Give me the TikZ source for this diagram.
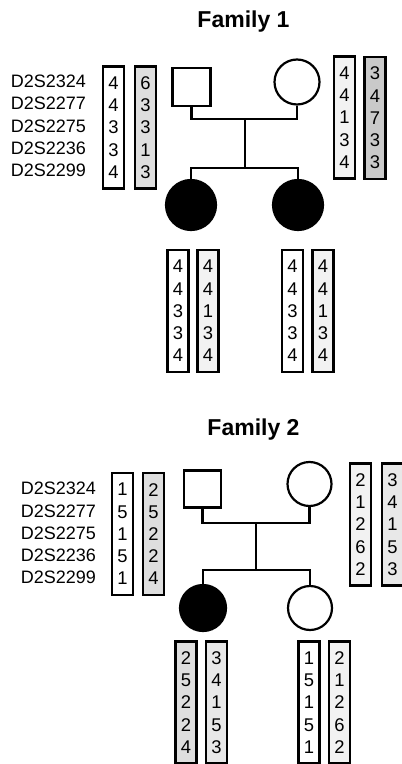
\documentclass[tikz,border=0pt]{standalone}
\usepackage{fontspec}
\setmainfont{Liberation Sans}
\usepackage{tikz}
\usetikzlibrary{shapes.geometric}

\begin{document}
\begin{tikzpicture}[x=0.5pt,y=-0.5pt,line width=1.1pt,
	hap box/.style={draw, line width=1.4pt, inner sep=0pt, minimum width=10.5pt, minimum height=61pt, align=center, font=\fontsize{9.2}{11.1}\selectfont},
	light/.style={fill=black!5}, soft/.style={fill=black!9}, mid/.style={fill=black!13}, dark/.style={fill=black!21},
	marker/.style={align=right, inner sep=0pt, font=\fontsize{9}{11.1}\selectfont},
	male/.style={rectangle, draw, minimum size=19pt, inner sep=0pt},
	female/.style={circle, draw, minimum size=22.5pt, inner sep=0pt},
	affected/.style={circle, draw, fill=black, minimum size=25pt, inner sep=0pt},
	title/.style={anchor=base, font=\fontsize{11.5}{13}\selectfont\bfseries}]
	\useasboundingbox (0,0) rectangle (401,764);
	
	% Family 1
	\node[title] (t1) at (243.5,28) {Family 1};
	\node[marker, anchor=east] (mk1) at (87,126) {D2S2324\\D2S2277\\D2S2275\\D2S2236\\D2S2299};
	\node[hap box] (d1a) at (113.5,127.5) {4\\4\\3\\3\\4};
	\node[hap box, mid] (d1b) at (145.5,127.5) {6\\3\\3\\1\\3};
	\node[male] (d1) at (191.5,87) {};
	\node[female] (m1) at (297,82) {};
	\node[hap box, light] (m1a) at (344.5,117.5) {4\\4\\1\\3\\4};
	\node[hap box, dark] (m1b) at (375,118) {3\\4\\7\\3\\3};
	\node[affected] (k1) at (191,205) {};
	\node[affected] (k2) at (298,205) {};
	\node[hap box] (k1a) at (178,311) {4\\4\\3\\3\\4};
	\node[hap box, light] (k1b) at (208,311) {4\\4\\1\\3\\4};
	\node[hap box] (k2a) at (292.5,311) {4\\4\\3\\3\\4};
	\node[hap box, light] (k2b) at (323,311) {4\\4\\1\\3\\4};
	
	\coordinate (mar1) at (245,119);
	\coordinate (sib1) at (245,168);
	\draw (d1.south) |- (mar1) -| (m1.south);
	\draw (mar1) -- (sib1);
	\draw (k1.north) |- (sib1) -| (k2.north);
	
	% Family 2
	\node[title] (t2) at (253.5,435) {Family 2};
	\node[marker, anchor=east] (mk2) at (97,533) {D2S2324\\D2S2277\\D2S2275\\D2S2236\\D2S2299};
	\node[hap box] (d2a) at (122.5,534) {1\\5\\1\\5\\1};
	\node[hap box, mid] (d2b) at (153.5,534) {2\\5\\2\\2\\4};
	\node[male, minimum size=18.5pt] (d2) at (202.5,489) {};
	\node[female, minimum size=22pt] (m2) at (309.5,484) {};
	\node[hap box, light] (m2a) at (360.5,524.5) {2\\1\\2\\6\\2};
	\node[hap box, soft] (m2b) at (392.5,524.5) {3\\4\\1\\5\\3};
	\node[affected, minimum size=23pt] (k3) at (203,608) {};
	\node[female, minimum size=22pt] (k4) at (310,608) {};
	\node[hap box, mid] (k3a) at (186,702.5) {2\\5\\2\\2\\4};
	\node[hap box, soft] (k3b) at (216.5,702.5) {3\\4\\1\\5\\3};
	\node[hap box] (k4a) at (309,702.5) {1\\5\\1\\5\\1};
	\node[hap box, light] (k4b) at (339.5,702.5) {2\\1\\2\\6\\2};
	
	\coordinate (mar2) at (256,523);
	\coordinate (sib2) at (256,570);
	\draw (d2.south) |- (mar2) -| (m2.south);
	\draw (mar2) -- (sib2);
	\draw (k3.north) |- (sib2) -| (k4.north);
	
\end{tikzpicture}
\end{document}
